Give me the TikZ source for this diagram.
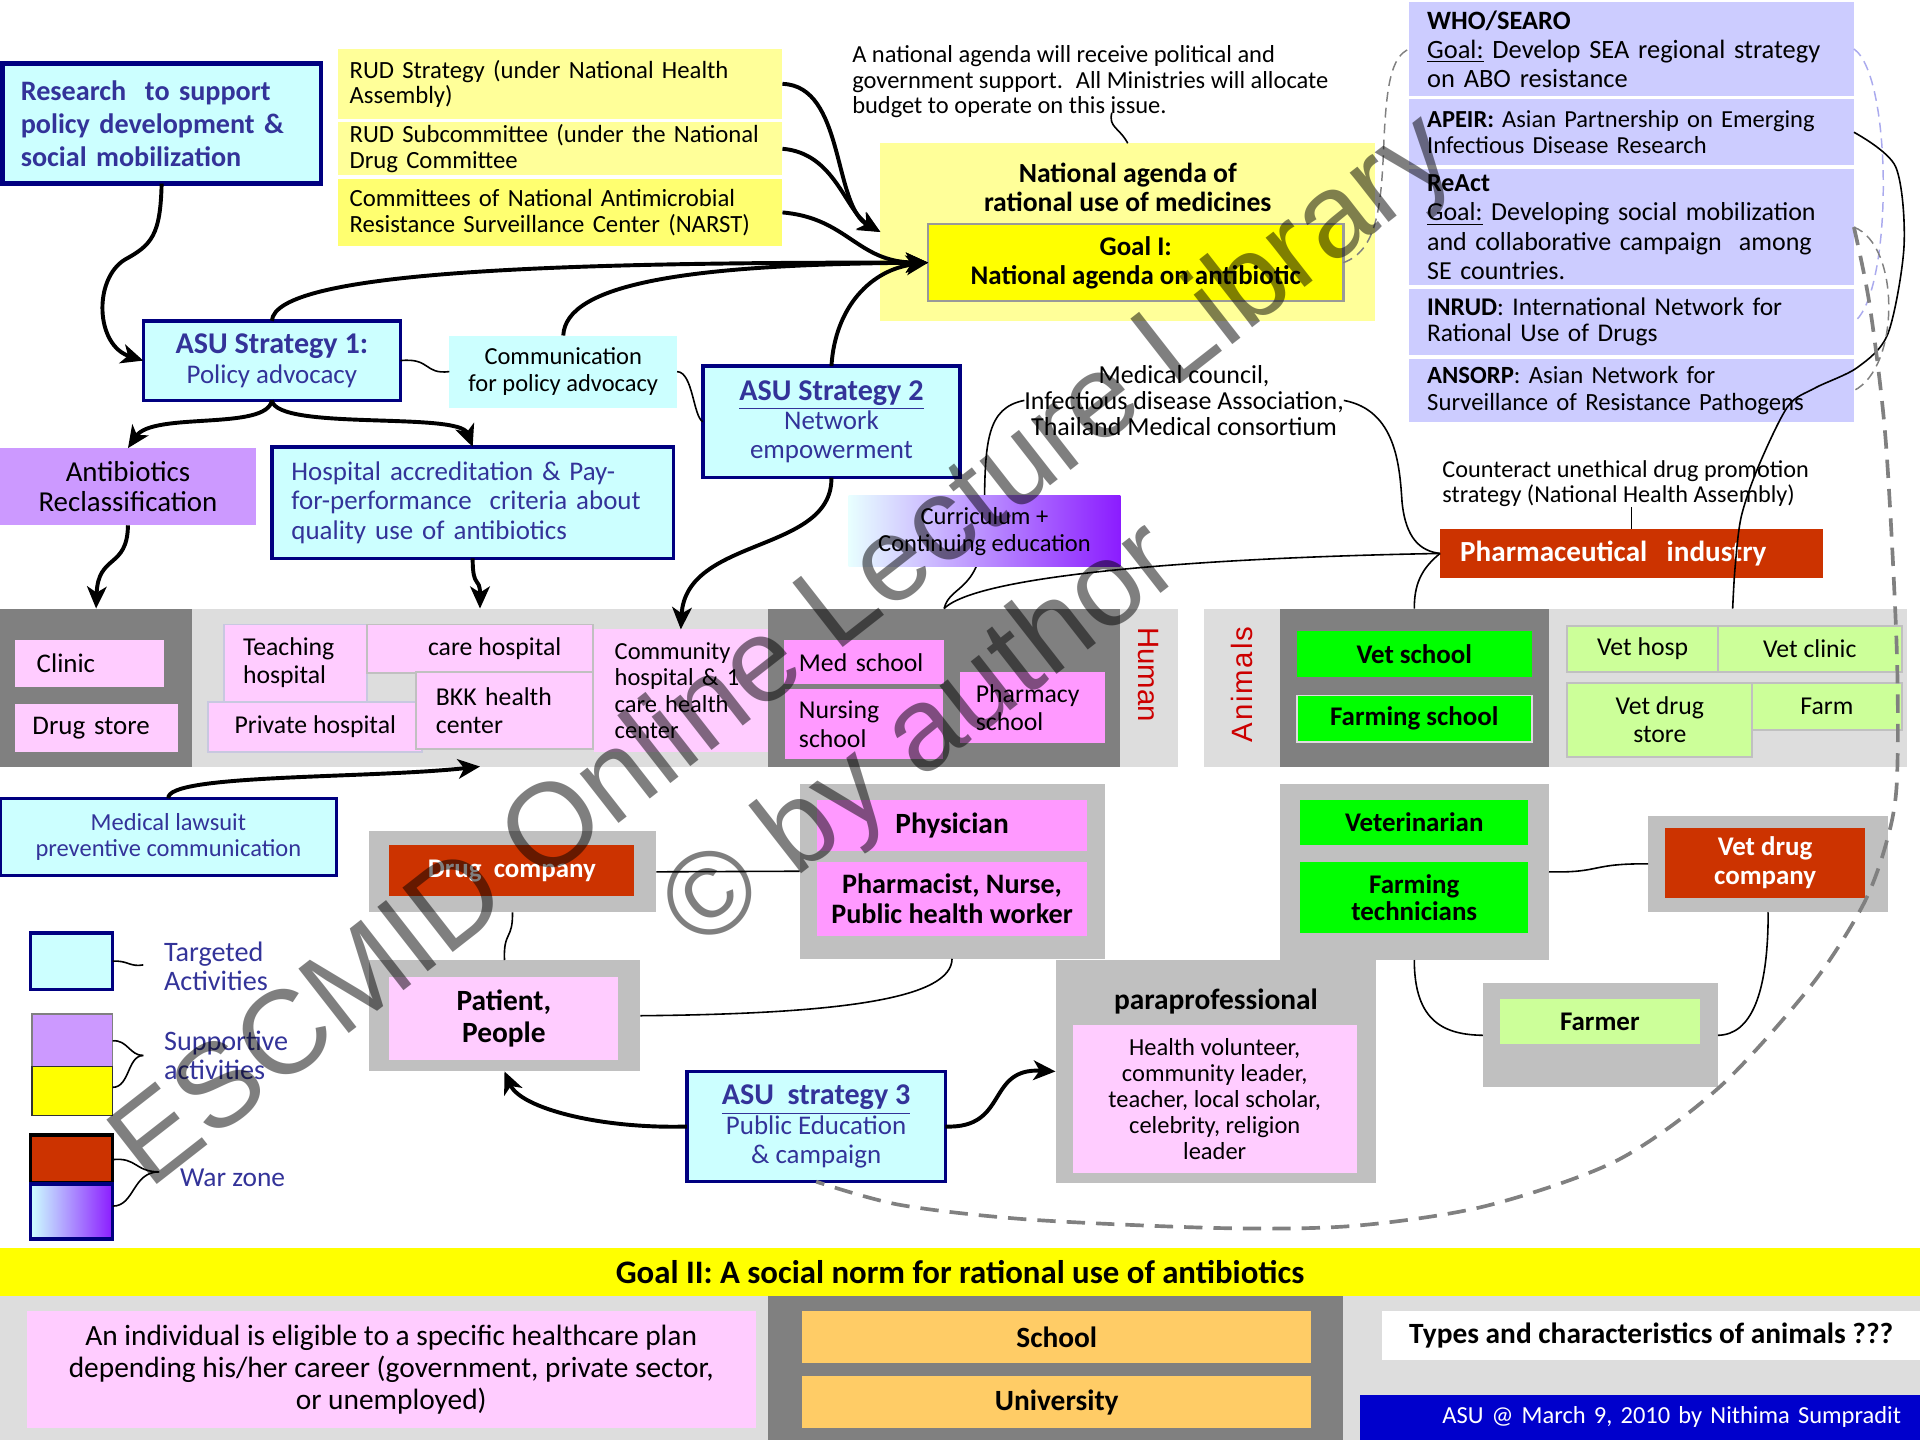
\documentclass[tikz,border=0pt]{standalone}
\usepackage{fontspec}
\setmainfont{Carlito}
\newfontfamily\wmfont{Liberation Sans}
\usetikzlibrary{arrows.meta,calc}
\hyphenpenalty=10000
\exhyphenpenalty=10000
\definecolor{cyanF}{HTML}{CCFFFF}
\definecolor{navyB}{HTML}{000080}
\definecolor{navyT}{HTML}{333399}
\definecolor{lyel}{HTML}{FFFF99}
\definecolor{nyel}{HTML}{FFFF70}
\definecolor{yel}{HTML}{FFFF00}
\definecolor{lilac}{HTML}{CC99FF}
\definecolor{lav}{HTML}{CCCCFF}
\definecolor{pinkL}{HTML}{FFCCFF}
\definecolor{pinkM}{HTML}{FF99FF}
\definecolor{dgr}{HTML}{808080}
\definecolor{lgr}{HTML}{DDDDDD}
\definecolor{grpG}{HTML}{C0C0C0}
\definecolor{warR}{HTML}{CC3300}
\definecolor{grn}{HTML}{00FF00}
\definecolor{lgrn}{HTML}{CCFF99}
\definecolor{orng}{HTML}{FFCC66}
\definecolor{blu}{HTML}{0000CC}
\definecolor{redT}{HTML}{CC0000}
\definecolor{curR}{HTML}{8B1CFF}
\definecolor{curL}{HTML}{E8FFFF}
\definecolor{dashLav}{HTML}{AAAAEE}
\definecolor{boxEdge}{HTML}{C8C8E0}
\newcommand\fs[2]{\fontsize{#1}{#2}\selectfont}
\newcommand\bt[1]{{\fontsize{12.3}{12}\selectfont\bfseries #1}}
% box from corner (x1,y1) to (x2,y2), picture units
\newcommand\bx[7]{%
  \pgfmathsetmacro\bxw{abs(#4-#2)*0.5}%
  \pgfmathsetmacro\bxh{abs(#5-#3)*0.5}%
  \node[minimum width=\bxw pt,minimum height=\bxh pt,#6] (#1) at ({(#2+#4)/2},{(#3+#5)/2}) {#7};}
\begin{document}
\begin{tikzpicture}[x=0.5pt,y=-0.5pt,
  every node/.style={inner sep=0pt,outer sep=0pt},
  arr/.style={line width=1.6pt,-{Stealth[length=9pt,width=8pt,inset=2.5pt]}},
  conn/.style={line width=0.65pt},
  navybox/.style={fill=cyanF,draw=navyB,line width=1.4pt,text=navyT},
  grp/.style={fill=grpG},
  dashthin/.style={draw=dgr,line width=0.6pt,dash pattern=on 4pt off 2.5pt},
  dashbig/.style={draw=dgr,line width=1.5pt,dash pattern=on 7.5pt off 4.5pt},
  wm/.style={font={\wmfont\fontsize{48.5}{50}\selectfont},text=black,opacity=0.5,anchor=base west,rotate=38},
]
\useasboundingbox (0,0) rectangle (1568,1176);
\fill[white] (0,0) rectangle (1568,1176);

% ================= top left =================
\bx{research}{2}{52}{262}{150}{navybox,line width=1.8pt,text width=115pt,align=left,font={\bfseries\fs{11.5}{13.5}}}{Research~ to support\\policy development \&\\social mobilization}

\bx{rud1}{276}{40}{639}{97}{fill=lyel,text width=172pt,align=left,font={\fs{10.1}{10.5}}}{RUD Strategy (under National Health\\Assembly)}
\bx{rud2}{276}{100}{639}{143}{fill=lyel,text width=172pt,align=left,font={\fs{10.1}{10.5}}}{RUD Subcommittee (under the National\\Drug Committee}
\bx{narst}{276}{146}{639}{201}{fill=nyel,text width=172pt,align=left,font={\fs{10.1}{10.5}}}{Committees of National Antimicrobial\\Resistance Surveillance Center (NARST)}

\node[anchor=north west,align=left,font={\fs{10}{10.5}}] (natltxt) at (696,37) {A national agenda will receive political and\\government support.~ All Ministries will allocate\\budget to operate on this issue.};

\bx{natl}{719}{117}{1123}{262}{fill=lyel}{}
\node[font={\bfseries\fs{11.3}{12}},align=center] (natltitle) at (921,153) {National agenda of\\rational use of medicines};
\bx{goal1}{758}{183}{1097}{246}{fill=yel,draw=gray!80,line width=1pt,align=center,font={\bfseries\fs{11}{12}}}{Goal I:\\National agenda on antibiotic}
\coordinate (nt) at (908,92);
\draw[conn] (nt) .. controls (905,104) and (914,104) .. (natl.north);

% ================= WHO column =================
\bx{who1}{1151}{2}{1514}{78}{fill=lav,text width=167pt,align=left,font={\fs{10.8}{11.8}}}{\textbf{WHO/SEARO}\\\underline{Goal:} Develop SEA regional strategy\\on ABO resistance}
\bx{who2}{1151}{81}{1514}{135}{fill=lav,text width=167pt,align=left,font={\fs{10}{10.8}}}{\textbf{APEIR:} Asian Partnership on Emerging\\Infectious Disease Research}
\bx{who3}{1151}{138}{1514}{233}{fill=lav,text width=167pt,align=left,font={\fs{10.6}{12}}}{\textbf{ReAct}\\\underline{Goal:} Developing social mobilization\\and collaborative campaign~ among\\SE countries.}
\bx{who4}{1151}{236}{1514}{290}{fill=lav,text width=167pt,align=left,font={\fs{10.4}{10.8}}}{\textbf{INRUD}: International Network for\\Rational Use of Drugs}
\bx{who5}{1151}{293}{1514}{345}{fill=lav,text width=167pt,align=left,font={\fs{10.1}{10.8}}}{\textbf{ANSORP}: Asian Network for\\Surveillance of Resistance Pathogens}

% ================= strategies =================
\bx{asu1}{117}{262}{327}{327}{navybox,align=center,font={\fs{11}{12}}}{\bt{ASU Strategy 1:}\\Policy advocacy}
\bx{comm}{367}{274}{553}{333}{fill=cyanF,align=center,font={\fs{10}{11}}}{Communication\\for policy advocacy}
\bx{asu2}{574}{299}{784}{390}{navybox,align=center,font={\fs{11}{12}}}{\bt{\underline{ASU Strategy 2}}\\Network\\empowerment}
\bx{anti}{0}{366}{209}{429}{fill=lilac,align=center,font={\fs{11.8}{12.5}}}{Antibiotics\\Reclassification}
\bx{hosp}{222}{365}{550}{456}{navybox,text width=148pt,align=left,font={\fs{11}{12}}}{Hospital accreditation \& Pay-\\for-performance~ criteria about\\quality use of antibiotics}

% medical council text & brackets (behind curriculum box)
\node[align=center,font={\fs{10.6}{10.5}}] (medc) at (967,327) {Medical council,\\Infectious disease Association,\\Thailand Medical consortium};
\coordinate (medtop) at (771,497);
\draw[conn] (medc.west) .. controls (806,333) and (804,360) .. (804,420) .. controls (804,485) and (776,476) .. (medtop);

\bx{curr}{693}{405}{915}{463}{left color=curL,right color=curR,align=center,font={\fs{10}{11}}}{Curriculum +\\Continuing education}

\node[anchor=west,align=left,font={\fs{9.9}{10.5}}] (counter) at (1178,395) {Counteract unethical drug promotion\\strategy (National Health Assembly)};
\bx{pharm}{1176}{432}{1489}{472}{fill=warR,text width=140pt,align=left,text=white,font={\bfseries\fs{11.9}{13}}}{Pharmaceutical~ industry}

% ================= middle band =================
\bx{dg1}{0}{497}{157}{626}{fill=dgr}{}
\bx{lg1}{157}{497}{627}{626}{fill=lgr}{}
\bx{dg2}{627}{497}{915}{626}{fill=dgr}{}
\bx{humcol}{915}{497}{962}{626}{fill=lgr}{}
\bx{anicol}{983}{497}{1045}{626}{fill=lgr}{}
\bx{dg3}{1045}{497}{1265}{626}{fill=dgr}{}
\bx{lg2}{1265}{497}{1557}{626}{fill=lgr}{}
\coordinate (vc) at (1415,497);

\node[rotate=-90,text=redT,font={\wmfont\fs{12}{14}}] (human) at (938,551) {Human};
\node[rotate=90,text=redT,font={\wmfont\addfontfeature{LetterSpace=6}\fs{12}{14}}] (animals) at (1014,559) {Animals};

\bx{clinic}{12}{523}{134}{561}{fill=pinkL,text width=43pt,align=left,font={\fs{11}{12}}}{Clinic}
\bx{drugst}{12}{575}{145}{614}{fill=pinkL,text width=52pt,align=left,font={\fs{11}{12}}}{Drug store}
\bx{teach}{183}{510}{300}{573}{fill=pinkL,draw=boxEdge,line width=0.8pt,text width=43pt,align=left,font={\fs{10.5}{11.5}}}{Teaching\\hospital}
\bx{care}{300}{510}{484}{550}{fill=pinkL,draw=grpG,line width=0.8pt,align=center,font={\fs{10.5}{11.5}}}{\hspace*{12pt}care hospital}
\bx{priv}{170}{573}{345}{614}{fill=pinkL,draw=boxEdge,line width=0.8pt,align=center,font={\fs{10.5}{11.5}}}{Private hospital}
\bx{bkk}{340}{549}{484}{612}{fill=pinkL,draw=grpG,line width=0.8pt,text width=56pt,align=left,font={\fs{10.5}{11.5}}}{BKK health\\center}
\bx{chc}{485}{514}{627}{614}{fill=pinkL,text width=54pt,align=left,font={\fs{10}{10.8}}}{Community\\hospital \& 1\\care health\\center}
\bx{medsch}{640}{523}{771}{559}{fill=pinkM,text width=53pt,align=left,font={\fs{10.5}{11.5}}}{Med school}
\bx{nursing}{641}{563}{770}{620}{fill=pinkM,text width=53pt,align=left,font={\fs{10.5}{11.5}}}{Nursing\\school}
\bx{pharmsch}{784}{549}{902}{607}{fill=pinkM,text width=46pt,align=left,font={\fs{10.5}{11.5}}}{Pharmacy\\school}
\bx{vetsch}{1059}{515}{1251}{553}{fill=grn,font={\bfseries\fs{11}{12}}}{Vet school}
\bx{farmsch}{1059}{568}{1251}{606}{fill=grn,draw=lgr,line width=0.8pt,font={\bfseries\fs{11}{12}}}{Farming school}
\bx{vethosp}{1280}{511}{1403}{549}{fill=lgrn,draw=grpG,line width=0.8pt,font={\fs{10.5}{11.5}}}{Vet hosp}
\bx{vetclin}{1403}{511}{1553}{549}{fill=lgrn,draw=grpG,line width=0.8pt,font={\fs{10.5}{11.5}}}{Vet clinic}
\bx{vetstore}{1280}{558}{1431}{618}{fill=lgrn,draw=grpG,line width=0.8pt,align=center,font={\fs{10.5}{11.5}}}{Vet drug\\store}
\bx{farm}{1431}{558}{1553}{596}{fill=lgrn,draw=grpG,line width=0.8pt,font={\fs{10.5}{11.5}}}{Farm}

% ================= lower groups =================
\bx{law}{0}{652}{275}{715}{navybox,align=center,font={\fs{10}{10.5}}}{Medical lawsuit\\preventive communication}
\bx{dcg}{301}{679}{536}{745}{grp}{}
\bx{dc}{318}{690}{518}{732}{fill=warR,text=white,font={\bfseries\fs{11}{12}}}{Drug~ company}
\bx{phg}{653}{640}{902}{783}{grp}{}
\bx{phys}{667}{653}{888}{695}{fill=pinkM,font={\bfseries\fs{12}{13}}}{Physician}
\bx{pnw}{667}{704}{888}{764}{fill=pinkM,align=center,font={\bfseries\fs{11.5}{12}}}{Pharmacist, Nurse,\\Public health worker}
\bx{patg}{301}{784}{523}{875}{grp}{}
\bx{pat}{318}{798}{505}{866}{fill=pinkL,align=center,font={\bfseries\fs{12}{13}}}{Patient,\\People}
\bx{parag}{862}{784}{1124}{966}{grp}{}
\node[font={\bfseries\fs{12}{13}}] (paratitle) at (993,818) {paraprofessional};
\bx{para}{876}{837}{1108}{958}{fill=pinkL,align=center,font={\fs{10}{10.6}}}{Health volunteer,\\community leader,\\teacher, local scholar,\\celebrity, religion\\leader}
\bx{vg}{1045}{640}{1265}{784}{grp}{}
\bx{vet}{1062}{653}{1248}{690}{fill=grn,font={\bfseries\fs{11}{12}}}{Veterinarian}
\bx{ftech}{1062}{704}{1248}{762}{fill=grn,align=center,font={\bfseries\fs{11}{11}}}{Farming\\technicians}
\bx{vdcg}{1346}{666}{1542}{745}{grp}{}
\bx{vdc}{1360}{676}{1523}{733}{fill=warR,align=center,text=white,font={\bfseries\fs{11}{11.5}}}{Vet drug\\company}
\bx{farmerg}{1211}{803}{1403}{888}{grp}{}
\bx{farmer}{1225}{816}{1388}{853}{fill=lgrn,font={\bfseries\fs{11}{12}}}{Farmer}
\bx{asu3}{561}{875}{772}{965}{navybox,align=center,font={\fs{11}{12}}}{\bt{\underline{ASU~ strategy 3}}\\Public Education\\\& campaign}

% ================= legend =================
\bx{legT}{25}{762}{92}{808}{fill=cyanF,draw=navyB,line width=1.3pt}{}
\node[anchor=west,align=left,text=navyT,font={\fs{11.5}{12}}] (legTt) at (134,789) {Targeted\\Activities};
\bx{legL}{26}{828}{92}{871}{fill=lilac,draw=gray,line width=0.6pt}{}
\bx{legY}{26}{871}{92}{911}{fill=yel,draw=black!80,line width=0.6pt}{}
\node[anchor=west,align=left,text=navyT,font={\fs{11.5}{12}}] (legSt) at (134,862) {Supportive\\activities};
\bx{legR}{25}{927}{92}{966}{fill=warR,draw=black,line width=1.5pt}{}
\bx{legG}{25}{967}{92}{1012}{left color=cyanF,right color=curR,draw=navyB,line width=1.5pt}{}
\node[anchor=west,text=navyT,font={\fs{11.2}{12}}] (legWt) at (147,962) {War zone};
\coordinate (bT) at (117,788);
\coordinate (bS) at (117,862);
\coordinate (bW) at (130,957);
\draw[conn] (legT.east) .. controls (104,784) and (106,790) .. (bT);
\draw[conn] (legL.east |- 0,850) .. controls (104,849) and (106,862) .. (bS);
\draw[conn] (bS) .. controls (104,862) and (106,888) .. (legY.east |- 0,888);
\draw[conn] (legR.east |- 0,947) .. controls (112,945) and (110,957) .. (bW);
\draw[conn] (bW) .. controls (108,957) and (110,985) .. (legG.east |- 0,985);

% ================= bottom =================
\bx{goal2}{0}{1019}{1568}{1058}{fill=yel,font={\bfseries\fs{13.4}{14}}}{Goal II: A social norm for rational use of antibiotics}
\bx{lg3}{0}{1058}{627}{1176}{fill=lgr}{}
\bx{plan}{22}{1071}{617}{1166}{fill=pinkL,align=center,font={\fs{12}{13}}}{An individual is eligible to a specific healthcare plan\\depending his/her career (government, private sector,\\or unemployed)}
\bx{dg4}{627}{1058}{1097}{1176}{fill=dgr}{}
\bx{school}{655}{1071}{1071}{1113}{fill=orng,font={\bfseries\fs{12}{12}}}{School}
\bx{univ}{655}{1124}{1071}{1166}{fill=orng,font={\bfseries\fs{12}{12}}}{University}
\bx{lg4}{1097}{1058}{1568}{1176}{fill=lgr}{}
\bx{types}{1129}{1071}{1568}{1111}{fill=white,font={\bfseries\fs{12}{12}}}{Types and characteristics of animals ???}
\bx{asuat}{1111}{1139}{1568}{1176}{fill=blu,text width=213pt,align=right,text=white,font={\fs{10}{11}}}{ASU @ March 9, 2010 by Nithima Sumpradit}

% ================= connectors =================
\draw[arr] (research.south) .. controls (131,192) and (124,200) .. (102,212) .. controls (76,228) and (78,282) .. (asu1.west);
\draw[arr] (rud1.east) .. controls (690,70) and (680,168) .. (natl.west);
\draw[arr] (rud2.east) .. controls (682,125) and (690,172) .. (natl.west);
\draw[arr] (narst.east) .. controls (692,178) and (700,214) .. (goal1.west);
\draw[arr] (asu1.north) .. controls (225,222) and (450,214) .. (goal1.west);
\draw[arr] (comm.north) .. controls (462,232) and (560,216) .. (goal1.west);
\draw[arr] (asu2.north) .. controls (682,250) and (712,220) .. (goal1.west);
\draw[arr] (asu1.south) .. controls (218,352) and (125,336) .. (anti.north);
\draw[arr] (asu1.south) .. controls (226,352) and (375,336) .. (hosp.north);
\draw[arr] (anti.south) .. controls (104,465) and (80,452) .. (dg1.north);
\draw[arr] (hosp.south) .. controls (386,482) and (392,470) .. (lg1.north);
\draw[arr] (asu2.south) .. controls (680,452) and (560,438) .. (chc.north);
\draw[arr] (law.north) .. controls (135,632) and (300,636) .. (lg1.south);
\draw[arr] (asu3.west) .. controls (490,922) and (425,905) .. (patg.south);
\draw[arr] (asu3.east) .. controls (824,922) and (805,872) .. (parag.west);

\draw[conn] (asu1.east) .. controls (352,292) and (346,306) .. (comm.west);
\draw[conn] (comm.east) .. controls (566,304) and (566,340) .. (asu2.west);
\draw[conn] (pharm.west) .. controls (1000,455) and (800,468) .. (medtop);
\draw[conn] (medc.east) .. controls (1140,335) and (1143,380) .. (1145,410) .. controls (1148,440) and (1160,450) .. (pharm.west);
\draw[conn] (pharm.west) .. controls (1160,465) and (1155,478) .. (dg3.north);
\draw[conn] (counter.south -| pharm.north) -- (pharm.north);
\draw[conn] (dcg.east) -- (phg.west);
\draw[conn] (dcg.south) .. controls (419,768) and (411,760) .. (patg.north);
\draw[conn] (patg.east) .. controls (690,828) and (777,815) .. (phg.south);
\draw[conn] (vg.east) .. controls (1308,713) and (1298,705) .. (vdcg.west);
\draw[conn] (vg.south) .. controls (1155,835) and (1180,845) .. (farmerg.west);
\draw[conn] (vdcg.south) .. controls (1444,812) and (1430,845) .. (farmerg.east);

\draw[conn] plot[smooth] coordinates {(who2.east) (1548,136) (1555,200) (1542,272) (1517,300) (1482,317) (1460,332) (1436,381) (1422,422) (1417,463) (vc)};
\draw[dashthin] (goal1.east) .. controls (1124,205) and (1128,170) .. (1130,120) .. controls (1132,70) and (1136,46) .. (who1.west);
\draw[dashthin,draw=dashLav] (who1.east) .. controls (1546,62) and (1546,240) .. (who4.east);
\draw[dashthin] (who3.east) .. controls (1552,200) and (1552,300) .. (who5.east);
\draw[dashbig] plot[smooth] coordinates {(who3.east) (1527,250) (1540,360) (1549,530) (1549,640) (1540,690) (1521,740) (1479,805) (1404,888) (1320,948) (1213,985) (1107,1001) (1000,1003) (841,996) (735,984) (asu3.south)};

% ================= watermark =================
\node[wm] (wm1) at (122,972) {ESCMID Online Lecture Library};
\node[wm] (wm2) at (572,778) {\textcopyright\ by author};
\end{tikzpicture}
\end{document}
